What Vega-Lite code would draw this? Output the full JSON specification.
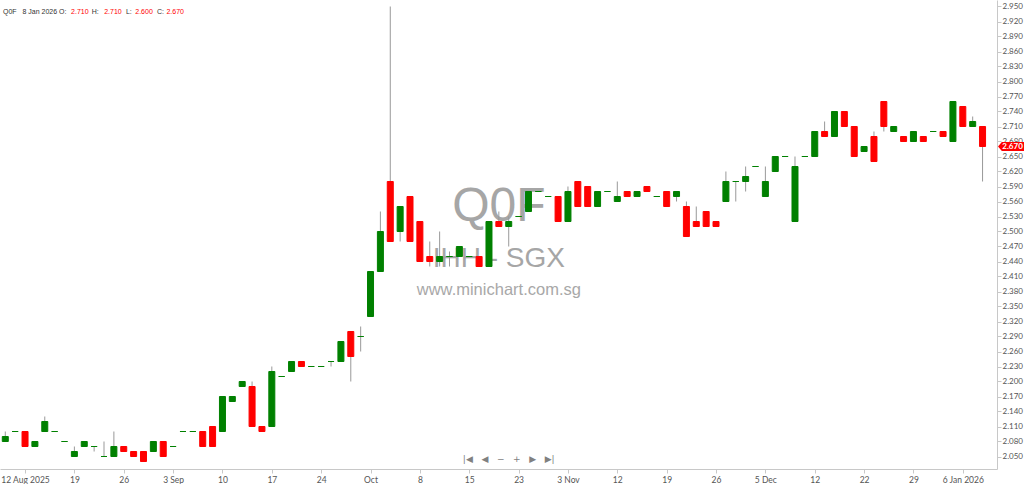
{
  "$schema": "https://vega.github.io/schema/vega-lite/v6.json",
  "width": 997,
  "height": 469,
  "autosize": {"type": "none"},
  "padding": {"left": 0, "top": 0, "right": 27, "bottom": 15},
  "background": "white",
  "config": {"view": {"stroke": null}, "font": "Lato"},
  "title": {
    "text": "Q0F\u00a0\u00a0\u00a08\u00a0Jan\u00a02026\u00a0O:\u00a0\u00a0\u00a0\u00a0\u00a0\u00a0\u00a0\u00a0\u00a0\u00a0\u00a0\u00a0\u00a0H:\u00a0\u00a0\u00a0\u00a0\u00a0\u00a0\u00a0\u00a0\u00a0\u00a0\u00a0\u00a0\u00a0\u00a0L:\u00a0\u00a0\u00a0\u00a0\u00a0\u00a0\u00a0\u00a0\u00a0\u00a0\u00a0\u00a0\u00a0C:",
    "subtitle": "\u200b\u00a0\u00a0\u00a0\u00a0\u00a0\u00a0\u00a0\u00a0\u00a0\u00a0\u00a0\u00a0\u00a0\u00a0\u00a0\u00a0\u00a0\u00a0\u00a0\u00a0\u00a0\u00a0\u00a0\u00a0\u00a0\u00a0\u00a0\u00a0\u00a0\u00a0\u00a0\u00a0\u00a0\u00a0\u00a02.710\u00a0\u00a0\u00a0\u00a0\u00a0\u00a0\u00a0\u00a02.710\u00a0\u00a0\u00a0\u00a0\u00a0\u00a0\u00a02.600\u00a0\u00a0\u00a0\u00a0\u00a0\u00a0\u00a02.670",
    "anchor": "start",
    "frame": "group",
    "orient": "top",
    "font": "Liberation Sans",
    "fontSize": 7,
    "fontWeight": "normal",
    "color": "#333333",
    "subtitleFont": "Liberation Sans",
    "subtitleFontSize": 7,
    "subtitleColor": "#ff0000",
    "subtitlePadding": -7,
    "offset": 0,
    "dx": 3,
    "dy": 15
  },
  "data": {
    "values": [
      {"d": "2025-08-07", "o": 2.08, "h": 2.10, "l": 2.08, "c": 2.09},
      {"d": "2025-08-08", "o": 2.10, "h": 2.10, "l": 2.10, "c": 2.10},
      {"d": "2025-08-12", "o": 2.10, "h": 2.10, "l": 2.07, "c": 2.07},
      {"d": "2025-08-13", "o": 2.07, "h": 2.08, "l": 2.07, "c": 2.08},
      {"d": "2025-08-14", "o": 2.10, "h": 2.13, "l": 2.10, "c": 2.12},
      {"d": "2025-08-15", "o": 2.10, "h": 2.10, "l": 2.10, "c": 2.10},
      {"d": "2025-08-18", "o": 2.08, "h": 2.08, "l": 2.08, "c": 2.08},
      {"d": "2025-08-19", "o": 2.05, "h": 2.07, "l": 2.05, "c": 2.06},
      {"d": "2025-08-20", "o": 2.07, "h": 2.08, "l": 2.07, "c": 2.08},
      {"d": "2025-08-21", "o": 2.07, "h": 2.07, "l": 2.06, "c": 2.07},
      {"d": "2025-08-22", "o": 2.05, "h": 2.08, "l": 2.05, "c": 2.05},
      {"d": "2025-08-25", "o": 2.05, "h": 2.10, "l": 2.05, "c": 2.07},
      {"d": "2025-08-26", "o": 2.07, "h": 2.07, "l": 2.06, "c": 2.06},
      {"d": "2025-08-27", "o": 2.06, "h": 2.06, "l": 2.05, "c": 2.05},
      {"d": "2025-08-28", "o": 2.06, "h": 2.06, "l": 2.04, "c": 2.04},
      {"d": "2025-08-29", "o": 2.06, "h": 2.08, "l": 2.06, "c": 2.08},
      {"d": "2025-09-01", "o": 2.08, "h": 2.08, "l": 2.05, "c": 2.05},
      {"d": "2025-09-03", "o": 2.07, "h": 2.07, "l": 2.07, "c": 2.07},
      {"d": "2025-09-04", "o": 2.10, "h": 2.10, "l": 2.10, "c": 2.10},
      {"d": "2025-09-05", "o": 2.10, "h": 2.10, "l": 2.10, "c": 2.10},
      {"d": "2025-09-08", "o": 2.10, "h": 2.10, "l": 2.07, "c": 2.07},
      {"d": "2025-09-09", "o": 2.11, "h": 2.11, "l": 2.07, "c": 2.07},
      {"d": "2025-09-10", "o": 2.10, "h": 2.17, "l": 2.10, "c": 2.17},
      {"d": "2025-09-11", "o": 2.16, "h": 2.17, "l": 2.16, "c": 2.17},
      {"d": "2025-09-12", "o": 2.19, "h": 2.20, "l": 2.19, "c": 2.20},
      {"d": "2025-09-15", "o": 2.19, "h": 2.20, "l": 2.11, "c": 2.11},
      {"d": "2025-09-16", "o": 2.11, "h": 2.11, "l": 2.10, "c": 2.10},
      {"d": "2025-09-17", "o": 2.11, "h": 2.23, "l": 2.11, "c": 2.22},
      {"d": "2025-09-18", "o": 2.21, "h": 2.21, "l": 2.21, "c": 2.21},
      {"d": "2025-09-19", "o": 2.22, "h": 2.24, "l": 2.22, "c": 2.24},
      {"d": "2025-09-22", "o": 2.24, "h": 2.24, "l": 2.23, "c": 2.23},
      {"d": "2025-09-23", "o": 2.23, "h": 2.23, "l": 2.23, "c": 2.23},
      {"d": "2025-09-24", "o": 2.23, "h": 2.23, "l": 2.23, "c": 2.23},
      {"d": "2025-09-25", "o": 2.24, "h": 2.24, "l": 2.23, "c": 2.24},
      {"d": "2025-09-26", "o": 2.24, "h": 2.28, "l": 2.24, "c": 2.28},
      {"d": "2025-09-29", "o": 2.30, "h": 2.30, "l": 2.20, "c": 2.25},
      {"d": "2025-09-30", "o": 2.29, "h": 2.31, "l": 2.26, "c": 2.29},
      {"d": "2025-10-01", "o": 2.33, "h": 2.42, "l": 2.33, "c": 2.42},
      {"d": "2025-10-02", "o": 2.42, "h": 2.54, "l": 2.42, "c": 2.50},
      {"d": "2025-10-03", "o": 2.60, "h": 2.95, "l": 2.48, "c": 2.48},
      {"d": "2025-10-06", "o": 2.50, "h": 2.55, "l": 2.48, "c": 2.55},
      {"d": "2025-10-07", "o": 2.57, "h": 2.57, "l": 2.48, "c": 2.48},
      {"d": "2025-10-08", "o": 2.52, "h": 2.52, "l": 2.44, "c": 2.44},
      {"d": "2025-10-09", "o": 2.45, "h": 2.48, "l": 2.43, "c": 2.44},
      {"d": "2025-10-10", "o": 2.44, "h": 2.50, "l": 2.43, "c": 2.45},
      {"d": "2025-10-13", "o": 2.45, "h": 2.46, "l": 2.43, "c": 2.45},
      {"d": "2025-10-14", "o": 2.45, "h": 2.47, "l": 2.45, "c": 2.47},
      {"d": "2025-10-15", "o": 2.45, "h": 2.45, "l": 2.45, "c": 2.45},
      {"d": "2025-10-16", "o": 2.45, "h": 2.45, "l": 2.43, "c": 2.43},
      {"d": "2025-10-17", "o": 2.43, "h": 2.52, "l": 2.43, "c": 2.52},
      {"d": "2025-10-21", "o": 2.52, "h": 2.54, "l": 2.51, "c": 2.51},
      {"d": "2025-10-22", "o": 2.51, "h": 2.53, "l": 2.47, "c": 2.52},
      {"d": "2025-10-23", "o": 2.53, "h": 2.53, "l": 2.53, "c": 2.53},
      {"d": "2025-10-24", "o": 2.54, "h": 2.58, "l": 2.54, "c": 2.58},
      {"d": "2025-10-27", "o": 2.58, "h": 2.58, "l": 2.58, "c": 2.58},
      {"d": "2025-10-28", "o": 2.57, "h": 2.57, "l": 2.57, "c": 2.57},
      {"d": "2025-10-30", "o": 2.57, "h": 2.57, "l": 2.52, "c": 2.52},
      {"d": "2025-11-03", "o": 2.52, "h": 2.59, "l": 2.52, "c": 2.58},
      {"d": "2025-11-04", "o": 2.60, "h": 2.60, "l": 2.55, "c": 2.55},
      {"d": "2025-11-05", "o": 2.59, "h": 2.59, "l": 2.55, "c": 2.55},
      {"d": "2025-11-07", "o": 2.55, "h": 2.58, "l": 2.55, "c": 2.58},
      {"d": "2025-11-10", "o": 2.58, "h": 2.58, "l": 2.58, "c": 2.58},
      {"d": "2025-11-12", "o": 2.56, "h": 2.60, "l": 2.56, "c": 2.57},
      {"d": "2025-11-13", "o": 2.58, "h": 2.58, "l": 2.57, "c": 2.57},
      {"d": "2025-11-14", "o": 2.57, "h": 2.58, "l": 2.57, "c": 2.58},
      {"d": "2025-11-17", "o": 2.59, "h": 2.59, "l": 2.58, "c": 2.58},
      {"d": "2025-11-18", "o": 2.57, "h": 2.57, "l": 2.57, "c": 2.57},
      {"d": "2025-11-19", "o": 2.58, "h": 2.58, "l": 2.55, "c": 2.55},
      {"d": "2025-11-20", "o": 2.57, "h": 2.58, "l": 2.56, "c": 2.58},
      {"d": "2025-11-21", "o": 2.55, "h": 2.56, "l": 2.49, "c": 2.49},
      {"d": "2025-11-24", "o": 2.52, "h": 2.55, "l": 2.51, "c": 2.51},
      {"d": "2025-11-25", "o": 2.54, "h": 2.54, "l": 2.51, "c": 2.51},
      {"d": "2025-11-26", "o": 2.52, "h": 2.52, "l": 2.51, "c": 2.51},
      {"d": "2025-11-27", "o": 2.56, "h": 2.62, "l": 2.56, "c": 2.60},
      {"d": "2025-11-28", "o": 2.60, "h": 2.60, "l": 2.56, "c": 2.60},
      {"d": "2025-12-02", "o": 2.60, "h": 2.63, "l": 2.58, "c": 2.61},
      {"d": "2025-12-03", "o": 2.63, "h": 2.63, "l": 2.63, "c": 2.63},
      {"d": "2025-12-05", "o": 2.57, "h": 2.63, "l": 2.57, "c": 2.60},
      {"d": "2025-12-08", "o": 2.62, "h": 2.65, "l": 2.62, "c": 2.65},
      {"d": "2025-12-09", "o": 2.65, "h": 2.65, "l": 2.65, "c": 2.65},
      {"d": "2025-12-10", "o": 2.52, "h": 2.65, "l": 2.52, "c": 2.63},
      {"d": "2025-12-11", "o": 2.65, "h": 2.65, "l": 2.65, "c": 2.65},
      {"d": "2025-12-12", "o": 2.65, "h": 2.70, "l": 2.65, "c": 2.70},
      {"d": "2025-12-15", "o": 2.70, "h": 2.72, "l": 2.69, "c": 2.69},
      {"d": "2025-12-16", "o": 2.69, "h": 2.74, "l": 2.69, "c": 2.74},
      {"d": "2025-12-17", "o": 2.74, "h": 2.74, "l": 2.71, "c": 2.71},
      {"d": "2025-12-19", "o": 2.71, "h": 2.71, "l": 2.65, "c": 2.65},
      {"d": "2025-12-22", "o": 2.66, "h": 2.67, "l": 2.66, "c": 2.67},
      {"d": "2025-12-23", "o": 2.69, "h": 2.70, "l": 2.64, "c": 2.64},
      {"d": "2025-12-24", "o": 2.76, "h": 2.76, "l": 2.70, "c": 2.71},
      {"d": "2025-12-25", "o": 2.70, "h": 2.71, "l": 2.70, "c": 2.71},
      {"d": "2025-12-26", "o": 2.69, "h": 2.69, "l": 2.68, "c": 2.68},
      {"d": "2025-12-29", "o": 2.68, "h": 2.70, "l": 2.68, "c": 2.70},
      {"d": "2025-12-30", "o": 2.69, "h": 2.69, "l": 2.68, "c": 2.68},
      {"d": "2025-12-31", "o": 2.70, "h": 2.70, "l": 2.70, "c": 2.70},
      {"d": "2026-01-02", "o": 2.70, "h": 2.70, "l": 2.69, "c": 2.69},
      {"d": "2026-01-05", "o": 2.68, "h": 2.76, "l": 2.68, "c": 2.76},
      {"d": "2026-01-06", "o": 2.75, "h": 2.75, "l": 2.71, "c": 2.71},
      {"d": "2026-01-07", "o": 2.71, "h": 2.73, "l": 2.71, "c": 2.72},
      {"d": "2026-01-08", "o": 2.71, "h": 2.71, "l": 2.60, "c": 2.67}
    ]
  },
  "encoding": {
    "x": {
      "field": "d",
      "type": "ordinal",
      "title": null,
      "scale": {"type": "point", "padding": 1.06, "align": 0.268},
      "axis": {
        "values": ["2025-08-12", "2025-08-19", "2025-08-26", "2025-09-03", "2025-09-10", "2025-09-17", "2025-09-24", "2025-10-01", "2025-10-08", "2025-10-15", "2025-10-23", "2025-11-03", "2025-11-12", "2025-11-19", "2025-11-26", "2025-12-05", "2025-12-12", "2025-12-22", "2025-12-29", "2026-01-06"],
        "labelExpr": "datum.value == '2025-08-12' ? '12 Aug 2025' : datum.value == '2025-09-03' ? '3 Sep' : datum.value == '2025-10-01' ? 'Oct' : datum.value == '2025-11-03' ? '3 Nov' : datum.value == '2025-12-05' ? '5 Dec' : datum.value == '2026-01-06' ? '6 Jan 2026' : '' + toNumber(substring(datum.value, 8, 10))",
        "labelAngle": 0,
        "labelOverlap": false,
        "labelFontSize": 8.5,
        "labelColor": "#555555",
        "labelPadding": 2,
        "tickSize": 4,
        "tickColor": "#c8c8c8",
        "domainColor": "#c8c8c8",
        "grid": false
      }
    }
  },
  "layer": [
    {
      "transform": [{"filter": "datum.d == '2025-10-21'"}],
      "mark": {"type": "text", "font": "Liberation Sans", "fontSize": 48, "color": "#a6a6a6", "align": "center", "baseline": "alphabetic"},
      "encoding": {
        "y": {
          "datum": 2.522,
          "type": "quantitative",
          "title": null,
          "scale": {"domain": [2.025, 2.963], "zero": false, "nice": false},
          "axis": {
            "orient": "right",
            "values": [2.05, 2.08, 2.11, 2.14, 2.17, 2.2, 2.23, 2.26, 2.29, 2.32, 2.35, 2.38, 2.41, 2.44, 2.47, 2.5, 2.53, 2.56, 2.59, 2.62, 2.65, 2.68, 2.71, 2.74, 2.77, 2.8, 2.83, 2.86, 2.89, 2.92, 2.95],
            "tickCount": 40,
            "format": ".3f",
            "labelFontSize": 8,
            "labelColor": "#555555",
            "labelPadding": 1,
            "tickSize": 4,
            "tickColor": "#c8c8c8",
            "domainColor": "#c8c8c8",
            "grid": false,
            "labelOverlap": false,
            "labelBound": false
          }
        },
        "text": {"value": "Q0F"}
      }
    },
    {
      "transform": [{"filter": "datum.d == '2025-10-21'"}],
      "mark": {"type": "text", "font": "Liberation Sans", "fontSize": 28, "color": "#a6a6a6", "align": "center", "baseline": "alphabetic"},
      "encoding": {
        "y": {"datum": 2.429, "type": "quantitative", "title": null},
        "text": {"value": "IHH - SGX"}
      }
    },
    {
      "transform": [{"filter": "datum.d == '2025-10-21'"}],
      "mark": {"type": "text", "font": "Liberation Sans", "fontSize": 16.5, "color": "#a8a8a8", "align": "center", "baseline": "alphabetic"},
      "encoding": {
        "y": {"datum": 2.373, "type": "quantitative", "title": null},
        "text": {"value": "www.minichart.com.sg"}
      }
    },
    {
      "transform": [{"filter": "datum.d == '2025-10-22'"}],
      "mark": {"type": "text", "font": "DejaVu Sans", "fontSize": 9, "color": "#808080", "align": "center", "baseline": "middle"},
      "encoding": {
        "y": {"datum": 2.045, "type": "quantitative", "title": null},
        "text": {"value": "|◀\u00a0\u00a0\u00a0◀\u00a0\u00a0\u00a0−\u00a0\u00a0\u00a0+\u00a0\u00a0\u00a0▶\u00a0\u00a0\u00a0▶|"}
      }
    },
    {
      "mark": {"type": "rule", "color": "#999999", "strokeWidth": 1},
      "encoding": {
        "y": {
          "field": "l",
          "type": "quantitative",
          "title": null,
          "axis": {
            "orient": "right",
            "values": [2.05, 2.08, 2.11, 2.14, 2.17, 2.2, 2.23, 2.26, 2.29, 2.32, 2.35, 2.38, 2.41, 2.44, 2.47, 2.5, 2.53, 2.56, 2.59, 2.62, 2.65, 2.68, 2.71, 2.74, 2.77, 2.8, 2.83, 2.86, 2.89, 2.92, 2.95],
            "tickCount": 40,
            "format": ".3f",
            "labelFontSize": 8,
            "labelColor": "#555555",
            "labelPadding": 1,
            "tickSize": 4,
            "tickColor": "#c8c8c8",
            "domainColor": "#c8c8c8",
            "grid": false,
            "labelOverlap": false,
            "labelBound": false
          }
        },
        "y2": {"field": "h"}
      }
    },
    {
      "mark": {"type": "bar", "size": 6, "strokeWidth": 1},
      "encoding": {
        "y": {"field": "o", "type": "quantitative", "title": null},
        "y2": {"field": "c"},
        "fill": {"condition": {"test": "datum.c < datum.o", "value": "#ff0000"}, "value": "#008000"},
        "stroke": {"condition": {"test": "datum.c < datum.o", "value": "#ff0000"}, "value": "#008000"}
      }
    },
    {
      "transform": [{"filter": "datum.d == '2026-01-08'"}],
      "mark": {"type": "point", "shape": "M -1 0 L -0.72 -0.34 L 1 -0.34 L 1 0.34 L -0.72 0.34 Z", "size": 729, "filled": true, "color": "#ff0000", "opacity": 1, "xOffset": 29},
      "encoding": {
        "y": {"field": "c", "type": "quantitative", "title": null}
      }
    },
    {
      "transform": [{"filter": "datum.d == '2026-01-08'"}],
      "mark": {"type": "text", "color": "white", "fontSize": 8, "fontWeight": "bold", "align": "center", "baseline": "middle", "xOffset": 30},
      "encoding": {
        "y": {"field": "c", "type": "quantitative", "title": null},
        "text": {"field": "c", "format": ".3f"}
      }
    }
  ]
}
